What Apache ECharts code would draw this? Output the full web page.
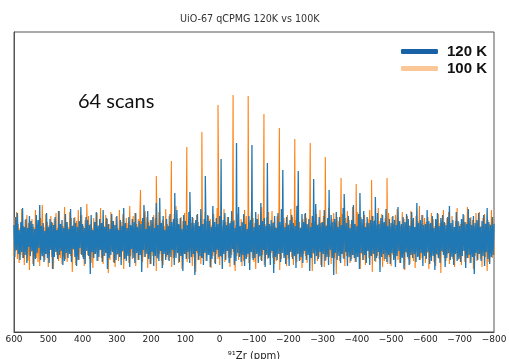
<!DOCTYPE html>
<html>
<head>
<meta charset="utf-8">
<script src="https://cdn.jsdelivr.net/npm/echarts@6/dist/echarts.min.js"></script>
<style>
  html, body { margin: 0; padding: 0; background: #fff; }
  #chart { width: 509px; height: 359px; }
</style>
</head>
<body>
<div id="chart"></div>
<script>
// ppm grid for the noise: 600 down to -800 in 2.5 ppm steps
const ppmStart = 600;
const ppmStep = 2.5;

// 120 K baseline noise (one value per grid point)
const noise120 = [
  14,-18,22,-11,26,-15,9,-21,17,-13,31,-19,12,-16,20,-24,11,-8,23,-17,
  18,-12,15,-27,10,-20,24,-14,19,-9,34,-21,13,-17,16,-23,8,-15,26,-19,
  12,-24,20,-11,17,-30,14,-18,22,-13,9,-20,28,-16,15,-12,19,-26,11,-22,
  25,-14,17,-19,10,-15,30,-23,13,-10,21,-18,16,-27,12,-21,18,-9,32,-16,
  15,-20,11,-25,22,-12,19,-17,14,-35,24,-13,9,-19,17,-15,27,-22,13,-18,
  20,-11,16,-23,29,-17,12,-14,21,-30,15,-19,10,-16,25,-13,18,-24,14,-21,
  23,-15,9,-18,19,-26,13,-12,31,-20,16,-22,11,-17,22,-28,14,-10,20,-19,
  17,-24,26,-14,12,-21,18,-16,15,-33,21,-11,24,-18,10,-15,28,-20,13,-25,
  19,-13,22,-27,11,-17,36,-19,14,-22,18,-12,16,-29,23,-15,9,-21,20,-16,
  13,-22,25,-18,17,-11,20,-26,12,-19,29,-14,15,-23,21,-17,10,-32,24,-15,
  18,-20,14,-13,27,-24,11,-18,22,-15,16,-36,19,-12,25,-21,13,-17,30,-19,
  15,-26,20,-14,10,-22,24,-16,18,-28,12,-20,33,-13,17,-25,21,-11,15,-18,
  23,-17,12,-30,19,-15,26,-21,14,-12,22,-24,16,-19,28,-10,18,-26,11,-22,
  21,-14,32,-18,13,-23,17,-16,25,-27,15,-20,10,-15,23,-31,19,-13,16,-21,
  12,-19,27,-15,20,-24,14,-17,36,-22,18,-11,21,-28,13,-16,24,-19,15,-26,
  19,-12,16,-34,23,-18,11,-21,26,-15,17,-23,30,-14,20,-19,12,-25,22,-16,
  14,-27,19,-13,24,-20,16,-17,13,-29,33,-15,18,-22,11,-18,25,-24,17,-12,
  26,-21,15,-16,20,-32,12,-19,23,-14,18,-25,35,-17,14,-20,22,-13,16,-28,
  17,-15,29,-22,13,-18,21,-26,15,-11,24,-19,17,-36,20,-14,27,-21,12,-17,
  22,-24,14,-15,31,-20,18,-13,16,-27,23,-18,11,-22,19,-16,34,-19,15,-23,
  13,-18,25,-30,17,-14,20,-21,28,-16,12,-24,22,-12,16,-26,19,-17,23,-15,
  18,-22,11,-19,26,-13,15,-33,21,-18,24,-15,17,-20,30,-23,13,-16,20,-25,
  16,-14,23,-21,19,-28,14,-17,32,-12,18,-24,15,-19,22,-30,17,-13,25,-18,
  20,-26,13,-16,27,-19,21,-15,12,-23,36,-18,16,-21,19,-14,24,-27,14,-17,
  15,-20,29,-13,18,-25,16,-22,23,-17,11,-31,20,-15,26,-19,13,-24,21,-12,
  24,-16,17,-28,14,-19,22,-14,33,-21,16,-18,19,-26,12,-15,27,-22,18,-20,
  13,-23,20,-17,25,-12,17,-29,15,-19,30,-16,21,-24,14,-18,23,-35,16,-14,
  19,-21,26,-15,12,-22,18,-17,24,-27,15,-13,31,-20,17,-25,14,-18,22,-16,
  15
];

// 100 K baseline noise
const noise100 = [
  -17,22,-12,27,-20,15,-24,11,-16,30,-19,13,-26,19,-10,24,-22,16,-31,18,
  -13,20,-25,12,-17,29,-19,15,-23,10,-27,21,-14,34,-18,12,-21,25,-15,17,
  -28,14,-11,23,-18,16,-30,20,-13,26,-16,11,-22,28,-19,15,-25,13,-12,32,
  -20,17,-23,12,-15,27,-17,21,-33,14,-11,22,-26,18,-14,29,-21,16,-15,24,
  -18,13,-27,19,-12,35,-16,23,-20,15,-24,11,-29,21,-15,17,-13,26,-22,14,
  -11,31,-19,16,-25,13,-17,24,-14,20,-34,15,-21,27,-12,18,-23,14,-28,22,
  -16,11,-22,29,-18,17,-13,25,-30,12,-19,21,-15,16,-24,33,-17,13,-20,23,
  -14,26,-27,15,-12,20,-21,31,-16,18,-23,13,-18,28,-11,22,-29,17,-15,19,
  -25,14,-17,24,-13,21,-32,12,-20,27,-15,16,-22,19,-26,13,-12,30,-18,15,
  -21,23,-14,17,-28,11,-19,25,-16,33,-13,20,-24,14,-17,22,-30,18,-11,26,
  -15,19,-23,13,-20,28,-12,16,-27,21,-18,14,-33,24,-14,17,-21,12,-25,29,
  -19,15,-13,27,-22,18,-16,23,-11,20,-29,14,-17,25,-24,12,-15,31,-20,16,
  -26,21,-18,13,-14,30,-23,17,-12,22,-19,15,-28,18,-16,24,-13,19,-32,14,
  -17,25,-21,12,-15,20,-27,16,-22,29,-14,23,-18,13,-24,17,-12,28,-19,21,
  -23,16,-30,20,-13,25,-18,14,-21,32,-16,19,-26,15,-12,22,-20,27,-17,13,
  -14,28,-19,17,-25,12,-22,23,-15,18,-31,14,-20,26,-13,21,-17,16,-27,24,
  -20,15,-12,30,-18,22,-26,13,-16,19,-23,34,-14,17,-21,12,-29,20,-15,25,
  -17,21,-24,14,-13,27,-19,16,-32,23,-15,18,-12,25,-22,15,-18,29,-26,17,
  -12,23,-28,19,-21,14,-16,31,-18,13,-25,20,-14,26,-19,16,-35,22,-13,18,
  -22,16,-15,25,-19,12,-27,21,-17,28,-13,19,-24,15,-20,32,-16,14,-23,20,
  -18,27,-14,17,-30,22,-15,13,-21,24,-26,16,-12,20,-19,29,-17,15,-33,23,
  -15,19,-23,14,-17,31,-20,18,-13,25,-28,16,-22,21,-14,17,-25,26,-18,12,
  -27,22,-16,15,-19,24,-12,30,-21,17,-24,13,-18,27,-15,20,-31,16,-14,23,
  -20,14,-25,28,-16,19,-22,12,-29,23,-13,18,-17,33,-21,15,-19,24,-12,21,
  -24,17,-14,22,-30,15,-18,26,-15,20,-23,13,-27,19,-16,25,-20,16,-34,18,
  -13,29,-19,16,-22,21,-15,27,-25,14,-17,23,-20,12,-28,18,-14,31,-21,17,
  -18,15,-26,20,-12,24,-23,17,-16,32,-19,14,-24,22,-15,19,-30,13,-17,26,
  -22,18,-15,27,-20,13,-28,21,-14,25,-18,16,-32,19,-23,15,-13,29,-19,22,
  -16
];

// spikelet positions (ppm) and heights
const spikePpm120 = [221, 175, 131, 87, 42, -4, -49, -94, -139, -184, -229, -274, -319, -363, -409, -454];
const spikeHeight120 = [34, 41, 46, 47, 63, 80, 96, 94, 76, 69, 68, 60, 49, 45, 46, 42];
const spikePpm100 = [231, 185, 141, 96, 52, 5, -39, -83, -129, -174, -219, -264, -308, -354, -398, -443, -488];
const spikeHeight100 = [49, 63, 78, 92, 107, 134, 144, 143, 125, 111, 100, 96, 82, 61, 55, 59, 61];

const xTicks = { min: -800, max: 600, interval: 100 };

function buildSeries(noise, spikePpm, spikeHeight) {
  const pts = noise.map((v, i) => [ppmStart - i * ppmStep, v]);
  spikePpm.forEach((p, i) => pts.push([p, spikeHeight[i]]));
  pts.sort((a, b) => b[0] - a[0]);
  return pts;
}

const chart = echarts.init(document.getElementById('chart'));

chart.setOption({
  animation: false,
  grid: {
    left: 14, right: 15, top: 32, bottom: 27,
    outerBoundsMode: 'none',
    show: true, borderColor: '#555', borderWidth: 1
  },
  graphic: [
    {
      type: 'text', left: 180, top: 14,
      style: { text: 'UiO-67 qCPMG 120K vs 100K', font: '9.6px "DejaVu Sans"', fill: '#333' }
    },
    {
      type: 'text', left: 78, top: 92,
      style: { text: '64 scans', font: '20px Lato', fill: '#111' }
    }
  ],
  legend: {
    orient: 'vertical',
    right: 22, top: 44,
    padding: 0,
    icon: 'roundRect',
    itemWidth: 37, itemHeight: 5, itemGap: 2,
    textStyle: {
      fontSize: 15, fontWeight: 'bold', color: '#111', fontFamily: 'Liberation Sans',
      padding: [0, 0, 0, 4]
    },
    data: [
      { name: '120 K', itemStyle: { color: '#1a62a6' } },
      { name: '100 K', itemStyle: { color: '#fcc797' } }
    ]
  },
  xAxis: {
    type: 'value',
    inverse: true,
    min: xTicks.min, max: xTicks.max, interval: xTicks.interval,
    axisLine: { onZero: false, lineStyle: { color: '#444' } },
    axisTick: { show: false },
    splitLine: { show: false },
    axisLabel: {
      margin: 3, fontSize: 9, color: '#222', fontFamily: 'DejaVu Sans',
      formatter: v => (v < 0 ? '\u2212' + (-v) : String(v))
    },
    name: '\u2079\u00b9Zr (ppm)',
    nameLocation: 'middle',
    nameGap: 19,
    nameTextStyle: { fontSize: 10, color: '#222', fontFamily: 'DejaVu Sans' }
  },
  yAxis: {
    type: 'value',
    min: -93, max: 207,
    axisLine: { show: true, onZero: false, lineStyle: { color: '#555' } },
    axisTick: { show: false },
    axisLabel: { show: false },
    splitLine: { show: false }
  },
  series: [
    {
      name: '100 K',
      type: 'line',
      data: buildSeries(noise100, spikePpm100, spikeHeight100),
      showSymbol: false,
      lineStyle: { width: 1.1, color: '#ff7f0e' },
      itemStyle: { color: '#ff7f0e' },
      z: 2
    },
    {
      name: '120 K',
      type: 'line',
      data: buildSeries(noise120, spikePpm120, spikeHeight120),
      showSymbol: false,
      lineStyle: { width: 1.3, color: '#1f77b4' },
      itemStyle: { color: '#1f77b4' },
      z: 3
    }
  ]
});
</script>
</body>
</html>
